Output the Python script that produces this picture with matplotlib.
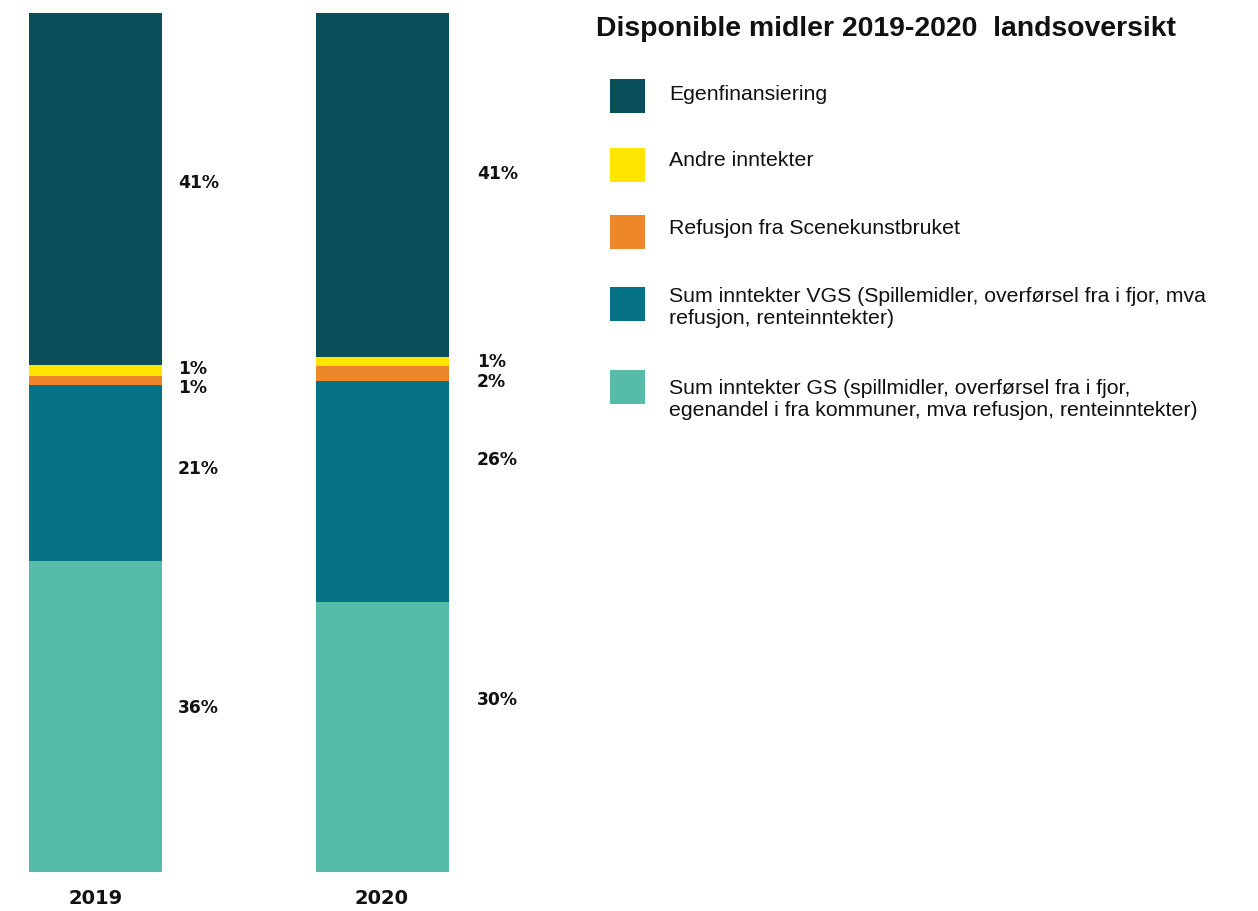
import matplotlib
matplotlib.use("Agg")
import matplotlib.pyplot as plt
from matplotlib.patches import Rectangle

# ---- data ----
years = ["2019", "2020"]
categories = [
    "Sum inntekter GS (spillmidler, overførsel fra i fjor,\negenandel i fra kommuner, mva refusjon, renteinntekter)",
    "Sum inntekter VGS (Spillemidler, overførsel fra i fjor, mva\nrefusjon, renteinntekter)",
    "Refusjon fra Scenekunstbruket",
    "Andre inntekter",
    "Egenfinansiering",
]
gs_vals = [36.2, 31.4]
vgs_vals = [20.5, 25.7]
refusjon_vals = [1.08, 1.82]
andre_vals = [1.25, 0.98]
egen_vals = [41.0, 40.1]
series = [gs_vals, vgs_vals, refusjon_vals, andre_vals, egen_vals]

gs_labels = ["36%", "30%"]
vgs_labels = ["21%", "26%"]
refusjon_labels = ["1%", "2%"]
andre_labels = ["1%", "1%"]
egen_labels = ["41%", "41%"]
labels = [gs_labels, vgs_labels, refusjon_labels, andre_labels, egen_labels]

colors = ["#57BBAA", "#067285", "#EE862A", "#FFE500", "#0B4F5A"]
title = "Disponible midler 2019-2020  landsoversikt"

# ---- layout ----
W, H = 1258, 911
FONT = "Liberation Sans"
fig = plt.figure(figsize=(W / 100, H / 100), dpi=100)

def fx(px):
    return px / W

def fy(py):
    return 1 - py / H

top_px, bot_px = 13, 871.7
ax_w_px = 600
ax = fig.add_axes([0, fy(bot_px), fx(ax_w_px), (bot_px - top_px) / H])
unit = 286.5
c0 = 95.5
ax.set_xlim(-c0 / unit, (ax_w_px - c0) / unit)
ax.set_ylim(0, 100)
ax.axis("off")

x = list(range(len(years)))
bw = 133 / unit
bottoms = [0.0] * len(years)
centers = []
for vals, col in zip(series, colors):
    ax.bar(x, vals, width=bw, bottom=bottoms, color=col, linewidth=0)
    centers.append([b + v / 2 for b, v in zip(bottoms, vals)])
    bottoms = [b + v for b, v in zip(bottoms, vals)]

# label placement nudges in pixels (positive = up), per series, per year
label_nudge_px = [[8, 37], [4, 32], [-8, -8.5], [1, -0.5], [6, 11]]
label_x_px = [178, 477]
px_per_unit_y = (bot_px - top_px) / 100
for i in range(len(years)):
    lx = (label_x_px[i] - c0) / unit
    for k in range(len(series)):
        cy = centers[k][i] + label_nudge_px[k][i] / px_per_unit_y
        ax.text(lx, cy, labels[k][i], ha="left", va="center",
                fontsize=12.3, fontweight="bold", family="DejaVu Sans", color="#111111")
    fig.text(fx(c0 + i * unit), fy(899), years[i], ha="center", va="center",
             fontsize=14, fontweight="bold", family="DejaVu Sans", color="#111111")

# title
fig.text(fx(596), fy(29), title, ha="left", va="center",
         fontsize=20.4, fontweight="bold", family=FONT, color="#111111")

# legend
legend_rows = [  # (category index, patch top px, text center px)
    (4, 79, 95),
    (3, 148, 160),
    (2, 215, 228),
    (1, 287, 308),
    (0, 370, 399),
]
for k, ptop, ty in legend_rows:
    fig.add_artist(Rectangle((fx(610), fy(ptop + 34)), 35 / W, 34 / H,
                             transform=fig.transFigure, color=colors[k], linewidth=0))
    fig.text(fx(669), fy(ty), categories[k], ha="left", va="center",
             fontsize=15.3, family=FONT, color="#111111", linespacing=1.2)

fig.savefig("out.png", dpi=100)
